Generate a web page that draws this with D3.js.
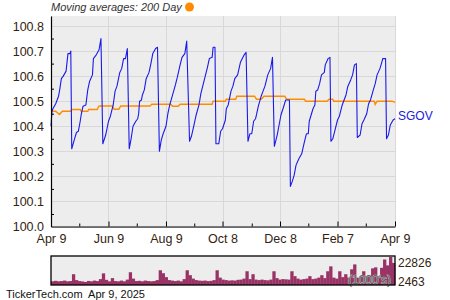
<!DOCTYPE html>
<html>
<head>
<meta charset="utf-8">
<script src="https://cdn.jsdelivr.net/npm/d3@7"></script>
<style>
  body { margin: 0; background: #fff; }
  svg { display: block; font-family: "Liberation Sans", Arial, sans-serif; }
</style>
</head>
<body>
<svg id="chart" width="450" height="300"></svg>
<script>
// price line (SGOV)
var priceDates = [
  "2024-04-09","2024-04-10","2024-04-11","2024-04-14","2024-04-17","2024-04-18","2024-04-20","2024-04-22","2024-04-25","2024-04-27","2024-04-29","2024-04-30",
  "2024-05-01","2024-05-04","2024-05-06","2024-05-08","2024-05-10","2024-05-11","2024-05-13","2024-05-16","2024-05-18","2024-05-20","2024-05-23","2024-05-24","2024-05-27","2024-05-30","2024-06-01",
  "2024-06-03","2024-06-06","2024-06-09","2024-06-11","2024-06-14","2024-06-16","2024-06-18","2024-06-21","2024-06-23","2024-06-25","2024-06-27","2024-06-29",
  "2024-07-01","2024-07-03","2024-07-05","2024-07-08","2024-07-10","2024-07-11","2024-07-12","2024-07-14","2024-07-15","2024-07-17","2024-07-19","2024-07-22","2024-07-24","2024-07-26","2024-07-29","2024-07-31",
  "2024-08-02","2024-08-04","2024-08-06","2024-08-09","2024-08-11","2024-08-13","2024-08-16","2024-08-19","2024-08-21","2024-08-24","2024-08-26","2024-08-29","2024-08-31",
  "2024-09-03","2024-09-05","2024-09-08","2024-09-10","2024-09-13","2024-09-15","2024-09-19","2024-09-22","2024-09-24","2024-09-27","2024-09-28","2024-09-30",
  "2024-10-01","2024-10-04","2024-10-06","2024-10-08","2024-10-11","2024-10-12","2024-10-14","2024-10-17","2024-10-19","2024-10-21","2024-10-24","2024-10-27","2024-10-29","2024-10-31","2024-11-02",
  "2024-11-04","2024-11-06","2024-11-08","2024-11-10","2024-11-12","2024-11-13","2024-11-15","2024-11-18","2024-11-20","2024-11-22","2024-11-25","2024-11-28","2024-11-30",
  "2024-12-02","2024-12-05","2024-12-07","2024-12-09","2024-12-12","2024-12-14","2024-12-18",
  "2024-12-19","2024-12-21","2024-12-23","2024-12-25","2024-12-28","2024-12-31","2025-01-03","2025-01-05","2025-01-07","2025-01-08","2025-01-10","2025-01-12","2025-01-14","2025-01-15","2025-01-17","2025-01-19","2025-01-21","2025-01-24","2025-01-25","2025-01-28","2025-01-30",
  "2025-01-31","2025-02-02","2025-02-04","2025-02-07","2025-02-09","2025-02-12","2025-02-14","2025-02-16","2025-02-18","2025-02-21","2025-02-23","2025-02-25","2025-02-27",
  "2025-02-28","2025-03-03","2025-03-05","2025-03-07","2025-03-10","2025-03-12","2025-03-14","2025-03-17","2025-03-19","2025-03-21","2025-03-24","2025-03-26","2025-03-27","2025-03-30",
  "2025-03-31","2025-04-02","2025-04-04","2025-04-07","2025-04-09"
];
var priceValues = [
  100.40,100.46,100.47,100.49,100.52,100.54,100.59,100.60,100.62,100.69,100.69,100.70,
  100.31,100.35,100.375,100.38,100.42,100.445,100.48,100.485,100.545,100.58,100.605,100.67,100.685,100.705,100.75,
  100.33,100.365,100.42,100.44,100.485,100.54,100.56,100.615,100.63,100.67,100.67,100.71,
  100.31,100.35,100.40,100.42,100.43,100.45,100.50,100.505,100.525,100.545,100.59,100.615,100.65,100.69,100.71,100.715,
  100.30,100.345,100.37,100.40,100.45,100.485,100.525,100.565,100.595,100.645,100.675,100.69,100.74,
  100.34,100.36,100.41,100.445,100.485,100.53,100.59,100.635,100.67,100.675,100.715,100.715,
  100.33,100.33,100.38,100.39,100.425,100.47,100.485,100.54,100.56,100.59,100.605,100.655,100.67,100.685,100.695,
  100.34,100.37,100.37,100.42,100.43,100.445,100.48,100.52,100.54,100.56,100.605,100.63,100.675,
  100.32,100.365,100.405,100.445,100.48,100.505,100.505,
  100.16,100.18,100.205,100.245,100.27,100.29,100.34,100.37,100.37,100.42,100.445,100.47,100.485,100.54,100.545,100.57,100.605,100.615,100.645,100.67,100.675,
  100.34,100.35,100.38,100.425,100.44,100.485,100.505,100.525,100.56,100.585,100.605,100.645,100.65,
  100.355,100.365,100.41,100.425,100.45,100.49,100.505,100.545,100.57,100.605,100.63,100.655,100.67,100.67,
  100.35,100.365,100.405,100.425,100.43
];

// 200 day moving average
var maDates = [
  "2024-04-09","2024-04-14","2024-04-18","2024-04-21","2024-04-30","2024-05-01","2024-05-10","2024-05-11","2024-05-18","2024-05-19",
  "2024-05-28","2024-05-30","2024-06-13","2024-06-15","2024-06-20","2024-06-22","2024-07-23","2024-07-25","2024-08-14","2024-08-16",
  "2024-08-22","2024-08-24","2024-09-27","2024-09-28","2024-10-11","2024-10-12","2024-10-22","2024-10-23","2024-11-11","2024-11-13",
  "2024-11-18","2024-11-21","2024-12-13","2024-12-15","2025-01-03","2025-01-04","2025-01-27","2025-01-29","2025-02-02","2025-02-03",
  "2025-03-18","2025-03-19","2025-03-21","2025-04-06","2025-04-09"
];
var maValues = [
  100.46,100.46,100.447,100.46,100.46,100.467,100.467,100.46,100.46,100.467,
  100.467,100.481,100.481,100.468,100.468,100.481,100.481,100.488,100.488,100.48,
  100.48,100.488,100.488,100.50,100.50,100.508,100.508,100.52,100.52,100.508,
  100.508,100.52,100.52,100.508,100.508,100.50,100.50,100.508,100.508,100.50,
  100.50,100.487,100.50,100.50,100.495
];

// volume in 1000's, one bar per ~3 days
var volumes = [
  3000,3400,3000,3200,3600,3000,3200,8800,4000,3200,
  2900,2463,3300,3000,3600,3200,4800,9500,4200,3000,
  5600,3200,3000,3600,3000,4400,10400,5200,3200,3400,
  3000,3600,3200,3000,3200,4000,12000,9600,6400,4000,
  3600,3200,3600,3000,4800,12000,8000,5200,4000,3600,
  3400,3600,3200,3400,4000,12000,6000,4400,4000,3600,
  3800,3600,4200,4400,5200,11200,4800,8800,4400,4000,
  4400,4000,3800,4400,11200,5600,4400,4800,4600,4400,
  11200,7200,5200,4400,4800,5200,7200,4800,5200,6000,
  8000,5600,11200,15200,6000,5200,11200,6400,8800,6000,
  12800,16800,6000,7200,11200,7200,8000,13600,14400,7200,
  14000,20800,16000,22826,18000
];
var volMax = 22826, volMin = 2463;

var yTicks = [100.0, 100.1, 100.2, 100.3, 100.4, 100.5, 100.6, 100.7, 100.8];
var yMinorTicks = [100.05, 100.15, 100.25, 100.35, 100.45, 100.55, 100.65, 100.75];
var xTickDates = ["2024-04-09","2024-06-09","2024-08-09","2024-10-08","2024-12-08","2025-02-07","2025-04-09"];
var xTickLabels = ["Apr 9","Jun 9","Aug 9","Oct 8","Dec 8","Feb 7","Apr 9"];
var xMinorDates = ["2024-05-09","2024-07-09","2024-09-08","2024-11-08","2025-01-07","2025-03-09"];

var parse = d3.timeParse("%Y-%m-%d");
var textColor = "#33230f";

var svg = d3.select("#chart");
var plotLeft = 51, plotRight = 395, plotTop = 16, plotBottom = 226.5;

var x = d3.scaleTime()
    .domain([parse("2024-04-09"), parse("2025-04-09")])
    .range([plotLeft, plotRight]);
var y = d3.scaleLinear()
    .domain([100.0, 100.84])
    .range([plotBottom, plotTop]);

// plot background
svg.append("rect")
    .attr("x", plotLeft).attr("y", plotTop)
    .attr("width", plotRight - plotLeft).attr("height", plotBottom - plotTop)
    .attr("fill", "#ededed");

// grid
svg.append("g").selectAll("line")
    .data(yTicks)
    .enter().append("line")
    .attr("x1", plotLeft).attr("x2", plotRight)
    .attr("y1", d => Math.round(y(d)) + 0.5).attr("y2", d => Math.round(y(d)) + 0.5)
    .attr("stroke", "#d8d8d8");

svg.append("g").selectAll("line")
    .data(xTickDates)
    .enter().append("line")
    .attr("x1", d => Math.round(x(parse(d))) + 0.5).attr("x2", d => Math.round(x(parse(d))) + 0.5)
    .attr("y1", plotTop).attr("y2", plotBottom)
    .attr("stroke", "#d8d8d8");

// moving average
var ma = maDates.map((d, i) => ({ date: parse(d), value: maValues[i] }));
svg.append("path")
    .datum(ma)
    .attr("fill", "none")
    .attr("stroke", "#ff8c00")
    .attr("stroke-width", 1.4)
    .attr("d", d3.line().x(d => x(d.date)).y(d => y(d.value)));

// price
var price = priceDates.map((d, i) => ({ date: parse(d), value: priceValues[i] }));
svg.append("path")
    .datum(price)
    .attr("fill", "none")
    .attr("stroke", "#1a1ae8")
    .attr("stroke-width", 1.1)
    .attr("stroke-linejoin", "round")
    .attr("d", d3.line().x(d => x(d.date)).y(d => y(d.value)));

// axes
var yAxis = svg.append("g")
    .attr("transform", "translate(" + plotLeft + ",0)")
    .call(d3.axisLeft(y).tickValues(yTicks).tickFormat(d3.format(".1f")).tickSize(0).tickPadding(7));
yAxis.select(".domain").attr("stroke", "#000").attr("stroke-width", 1.2);
yAxis.selectAll("text").attr("font-size", 12.5).attr("fill", textColor)
    .attr("font-family", "'Liberation Sans', Arial, sans-serif");

svg.append("g")
    .attr("transform", "translate(" + plotLeft + ",0)")
    .call(d3.axisRight(y).tickValues(yMinorTicks).tickFormat("").tickSize(3))
    .call(g => g.select(".domain").remove())
    .selectAll("line").attr("stroke", "#000");

var xAxis = svg.append("g")
    .attr("transform", "translate(0," + plotBottom + ")")
    .call(d3.axisBottom(x).tickValues(xTickDates.map(parse))
      .tickFormat((d, i) => xTickLabels[i]).tickSize(0).tickPadding(8));
xAxis.select(".domain").attr("stroke", "#000").attr("stroke-width", 1.2);
xAxis.selectAll("text").attr("font-size", 12.5).attr("fill", textColor)
    .attr("font-family", "'Liberation Sans', Arial, sans-serif");

svg.append("g")
    .attr("transform", "translate(0," + plotBottom + ")")
    .call(d3.axisTop(x).tickValues(xTickDates.map(parse)).tickFormat("").tickSize(5))
    .call(g => g.select(".domain").remove())
    .selectAll("line").attr("stroke", "#000");
svg.append("g")
    .attr("transform", "translate(0," + plotBottom + ")")
    .call(d3.axisTop(x).tickValues(xMinorDates.map(parse)).tickFormat("").tickSize(3))
    .call(g => g.select(".domain").remove())
    .selectAll("line").attr("stroke", "#000");

// series label
svg.append("text")
    .attr("x", plotRight + 3).attr("y", y(priceValues[priceValues.length - 1]) + 1)
    .attr("font-size", 12).attr("fill", "#2020e0")
    .text("SGOV");

// legend title
svg.append("text")
    .attr("x", 51).attr("y", 11)
    .attr("font-size", 11).attr("font-style", "italic").attr("fill", "#333")
    .text("Moving averages: 200 Day");
svg.append("circle")
    .attr("cx", 189.5).attr("cy", 7)
    .attr("r", 4.5)
    .attr("fill", "#ff8c00");

// volume panel
var vTop = 256, vBottom = 285;
var vx = d3.scaleBand().domain(d3.range(volumes.length)).range([plotLeft, plotRight]).padding(0);
var vy = d3.scaleLinear().domain([0, volMax]).range([vBottom, vTop + 1]);

svg.append("rect")
    .attr("x", plotLeft).attr("y", vTop)
    .attr("width", plotRight - plotLeft).attr("height", vBottom - vTop)
    .attr("fill", "#ededed");

svg.append("g").selectAll("rect")
    .data(volumes)
    .enter().append("rect")
    .attr("x", (d, i) => vx(i))
    .attr("width", vx.bandwidth() + 0.3)
    .attr("y", d => vy(d))
    .attr("height", d => vBottom - vy(d))
    .attr("fill", "#993366");

svg.append("text")
    .attr("x", 391).attr("y", 284)
    .attr("text-anchor", "end")
    .attr("font-size", 12)
    .attr("fill", "#4d6b5c")
    .attr("stroke", "#dfe8e2").attr("stroke-width", 0.6).attr("paint-order", "stroke")
    .text("(1000's)");

svg.append("rect")
    .attr("x", plotLeft).attr("y", vTop)
    .attr("width", plotRight - plotLeft).attr("height", vBottom - vTop)
    .attr("fill", "none")
    .attr("stroke", "#000").attr("stroke-width", 1.3);

svg.append("text")
    .attr("x", 398).attr("y", 267)
    .attr("font-size", 12).attr("fill", textColor)
    .text(volMax);
svg.append("text")
    .attr("x", 398).attr("y", 286)
    .attr("font-size", 12).attr("fill", textColor)
    .text(volMin);

svg.append("text")
    .attr("x", 6).attr("y", 298)
    .attr("font-size", 11).attr("fill", "#111")
    .attr("xml:space", "preserve")
    .text("TickerTech.com  Apr 9, 2025");
</script>
</body>
</html>
